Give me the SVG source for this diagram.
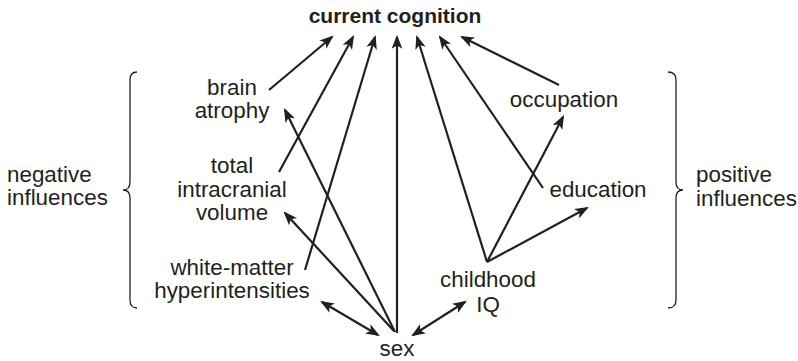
<svg xmlns="http://www.w3.org/2000/svg" width="798" height="361" viewBox="0 0 798 361">
  <defs>
    <style>
      .lbl { font-family: "Liberation Sans", Arial, sans-serif; font-size: 22.4px; fill: #231f20; }
      .mid { text-anchor: middle; }
      .title { font-family: "Liberation Sans", Arial, sans-serif; font-size: 21px; font-weight: bold; fill: #231f20; text-anchor: middle; }
      .edge { stroke: #231f20; stroke-width: 2.2; fill: none; marker-end: url(#head); }
      .both { marker-start: url(#head); }
      .brace { stroke: #231f20; stroke-width: 1.3; fill: none; }
    </style>
    <marker id="head" viewBox="0 0 13 10" refX="11" refY="5" markerWidth="14" markerHeight="11" markerUnits="userSpaceOnUse" orient="auto-start-reverse">
      <path d="M0,0 L13,5 L0,10 L3.2,5 z" fill="#231f20"/>
    </marker>
  </defs>

  <rect width="798" height="361" fill="#ffffff"/>

  <!-- connectors -->
  <g id="connectors">
    <line class="edge" x1="269" y1="90" x2="332" y2="37"/>
    <line class="edge" x1="279" y1="172" x2="353" y2="37"/>
    <line class="edge" x1="305" y1="270" x2="375" y2="37"/>
    <line class="edge" x1="397" y1="333" x2="397" y2="37"/>
    <line class="edge" x1="487" y1="262" x2="417" y2="37"/>
    <line class="edge" x1="543" y1="188" x2="440" y2="37"/>
    <line class="edge" x1="559" y1="85" x2="462" y2="37"/>
    <line class="edge" x1="395" y1="332" x2="285" y2="110"/>
    <line class="edge" x1="394" y1="331" x2="285" y2="213"/>
    <line class="edge both" x1="378" y1="335" x2="322" y2="302"/>
    <line class="edge" x1="487" y1="262" x2="563" y2="117"/>
    <line class="edge" x1="487" y1="262" x2="587" y2="208"/>
    <line class="edge both" x1="413" y1="335" x2="465" y2="302"/>
  </g>

  <!-- nodes -->
  <g id="current-cognition">
    <text class="title" x="395" y="23">current cognition</text>
  </g>
  <g id="brain-atrophy">
    <text class="lbl mid" x="232" y="95">brain</text>
    <text class="lbl mid" x="232" y="118">atrophy</text>
  </g>
  <g id="intracranial-volume">
    <text class="lbl mid" x="232" y="173">total</text>
    <text class="lbl mid" x="232" y="197">intracranial</text>
    <text class="lbl mid" x="232" y="220">volume</text>
  </g>
  <g id="white-matter">
    <text class="lbl mid" x="232" y="275">white-matter</text>
    <text class="lbl mid" x="232" y="298">hyperintensities</text>
  </g>
  <g id="sex">
    <text class="lbl mid" x="397" y="356">sex</text>
  </g>
  <g id="childhood-iq">
    <text class="lbl mid" x="488" y="287">childhood</text>
    <text class="lbl mid" x="488" y="312">IQ</text>
  </g>
  <g id="education">
    <text class="lbl mid" x="598" y="197">education</text>
  </g>
  <g id="occupation">
    <text class="lbl mid" x="564" y="107">occupation</text>
  </g>

  <!-- group braces -->
  <g id="negative-influences">
    <path class="brace" d="M137,72 Q130,72 130,80 L130,182 Q130,190 123,190 Q130,190 130,198 L130,300 Q130,308 137,308"/>
    <text class="lbl" x="7" y="182">negative</text>
    <text class="lbl" x="7" y="205">influences</text>
  </g>
  <g id="positive-influences">
    <path class="brace" d="M668,72 Q676,72 676,80 L676,182 Q676,190 683,190 Q676,190 676,198 L676,300 Q676,308 668,308"/>
    <text class="lbl" x="696" y="182">positive</text>
    <text class="lbl" x="696" y="206">influences</text>
  </g>
</svg>
